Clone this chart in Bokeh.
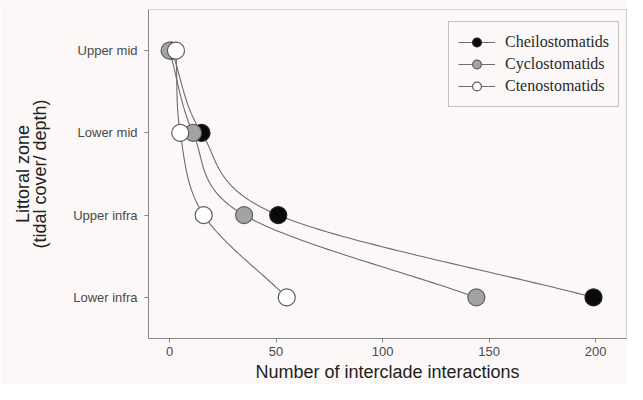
import numpy as np
from bokeh.plotting import figure
from bokeh.models import Range1d, FixedTicker, Legend, LegendItem
from bokeh.embed import file_html
from bokeh.resources import INLINE

# ---- data ----
zones = ["Upper mid", "Lower mid", "Upper infra", "Lower infra"]
zone_pos = [3, 2, 1, 0]
x_ticks = [0, 50, 100, 150, 200]
series_names = ["Cheilostomatids", "Cyclostomatids", "Ctenostomatids"]
cheilo = [1, 15, 51, 199]
cyclo = [0, 11, 35, 144]
cteno = [3, 5, 16, 55]

BG = "#fbf8f7"


def catmull_rom(xs, ys, n=40):
    """Smooth curve through the data points (drawing style of the original)."""
    P = np.column_stack([np.asarray(xs, float), np.asarray(ys, float)])
    m = np.zeros_like(P)
    m[0] = P[1] - P[0]
    m[-1] = P[-1] - P[-2]
    for i in range(1, len(P) - 1):
        m[i] = (P[i + 1] - P[i - 1]) / 2.0
    out = []
    t = np.linspace(0, 1, n)
    h00 = 2 * t**3 - 3 * t**2 + 1
    h10 = t**3 - 2 * t**2 + t
    h01 = -2 * t**3 + 3 * t**2
    h11 = t**3 - t**2
    for i in range(len(P) - 1):
        seg = (h00[:, None] * P[i] + h10[:, None] * m[i]
               + h01[:, None] * P[i + 1] + h11[:, None] * m[i + 1])
        out.append(seg if i == 0 else seg[1:])
    c = np.vstack(out)
    return c[:, 0], c[:, 1]


p = figure(width=627, height=384,
           x_range=Range1d(-9.9, 214.5), y_range=Range1d(-0.5, 3.5),
           output_backend="svg", toolbar_location=None,
           min_border_left=148, min_border_right=1,
           min_border_top=9, min_border_bottom=46)

p.background_fill_color = BG
p.border_fill_color = BG
p.outline_line_color = "#d6d2d0"
p.outline_line_width = 1
p.xgrid.visible = False
p.ygrid.visible = False

styles = [
    dict(fill="#0a0a0a", edge="#222222"),
    dict(fill="#a3a3a3", edge="#5f5f5f"),
    dict(fill="#ffffff", edge="#5a5a5a"),
]
series = [cheilo, cyclo, cteno]

line_rs = []
for vals in series:
    cx, cy = catmull_rom(vals, zone_pos)
    lr = p.line(cx, cy, line_color="#6c6c6c", line_width=1.1)
    line_rs.append(lr)

items = []
for name, vals, st, lr in zip(series_names, series, styles, line_rs):
    sr = p.scatter(vals, zone_pos, size=17, marker="circle",
                   fill_color=st["fill"], line_color=st["edge"], line_width=1.2)
    items.append(LegendItem(label=name, renderers=[lr, sr]))

legend = Legend(items=items, location=(300, 231))
legend.label_text_font = "Liberation Serif"
legend.label_text_font_size = "16px"
legend.label_text_color = "#2a2a2a"
legend.label_height = 22
legend.glyph_height = 22
legend.glyph_width = 37
legend.label_standoff = 10
legend.spacing = 0
legend.padding = 9
legend.margin = 0
legend.border_line_color = "#8a8a8a"
legend.border_line_width = 1
legend.background_fill_color = BG
legend.background_fill_alpha = 1.0
p.add_layout(legend, "center")

# x axis
p.xaxis.ticker = FixedTicker(ticks=x_ticks)
p.xaxis.axis_label = "Number of interclade interactions"
p.xaxis.axis_label_text_font = "Liberation Sans"
p.xaxis.axis_label_text_font_size = "18px"
p.xaxis.axis_label_text_font_style = "normal"
p.xaxis.axis_label_text_color = "#222222"
p.xaxis.axis_label_standoff = 3
p.xaxis.major_label_text_font = "Liberation Sans"
p.xaxis.major_label_text_font_size = "13px"
p.xaxis.major_label_text_color = "#4a4a4a"
p.xaxis.major_label_standoff = 4
p.xaxis.minor_tick_line_color = None
p.xaxis.major_tick_in = 0
p.xaxis.major_tick_out = 4
p.xaxis.major_tick_line_color = "#888888"
p.xaxis.axis_line_color = "#888888"

# y axis
p.yaxis.ticker = FixedTicker(ticks=zone_pos)
p.yaxis.major_label_overrides = {pos: z for pos, z in zip(zone_pos, zones)}
p.yaxis.axis_label = "Littoral zone\n(tidal cover/ depth)"
p.yaxis.axis_label_text_font = "Liberation Sans"
p.yaxis.axis_label_text_font_size = "18px"
p.yaxis.axis_label_text_font_style = "normal"
p.yaxis.axis_label_text_color = "#222222"
p.yaxis.axis_label_text_line_height = 0.85
p.yaxis.axis_label_standoff = 20
p.yaxis.major_label_text_font = "Liberation Sans"
p.yaxis.major_label_text_font_size = "13px"
p.yaxis.major_label_text_color = "#4a4a4a"
p.yaxis.major_label_standoff = 7
p.yaxis.minor_tick_line_color = None
p.yaxis.major_tick_in = 0
p.yaxis.major_tick_out = 4
p.yaxis.major_tick_line_color = "#888888"
p.yaxis.axis_line_color = "#888888"

open("out.html", "w").write(file_html(p, INLINE))
